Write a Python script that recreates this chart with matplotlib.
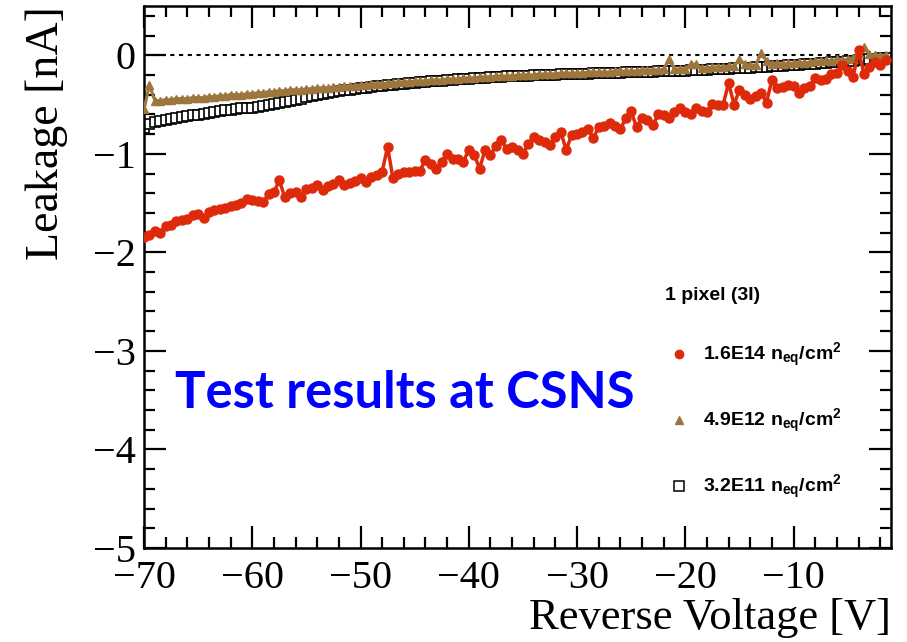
import numpy as np
import matplotlib
matplotlib.use("Agg")
import matplotlib.pyplot as plt
from matplotlib.lines import Line2D
from matplotlib.ticker import MultipleLocator

plt.rcParams["mathtext.fontset"] = "custom"
plt.rcParams["mathtext.rm"] = "Liberation Sans:bold"
plt.rcParams["mathtext.it"] = "Liberation Sans:bold"
plt.rcParams["mathtext.bf"] = "Liberation Sans:bold"
plt.rcParams["mathtext.default"] = "rm"

# reverse voltage grid [V], 0.5 V steps
voltage = np.arange(-70.0, -1.25, 0.5)

# leakage [nA] for 1.6E14 neq/cm2
leak_16e14 = [
    -1.84, -1.82, -1.78, -1.80, -1.73, -1.72, -1.68, -1.67, -1.66, -1.62,
    -1.61, -1.65, -1.59, -1.57, -1.56, -1.55, -1.53, -1.52, -1.50, -1.46,
    -1.47, -1.48, -1.49, -1.41, -1.39, -1.27, -1.44, -1.40, -1.39, -1.44,
    -1.36, -1.35, -1.32, -1.37, -1.33, -1.31, -1.27, -1.32, -1.30, -1.28,
    -1.25, -1.29, -1.24, -1.21, -1.18, -0.93, -1.25, -1.20, -1.18, -1.18,
    -1.17, -1.17, -1.06, -1.10, -1.15, -1.08, -1.00, -1.05, -1.05, -1.08,
    -0.96, -1.01, -1.15, -0.96, -1.01, -0.92, -0.86, -0.95, -0.93, -0.96,
    -1.00, -0.90, -0.83, -0.86, -0.88, -0.91, -0.83, -0.78, -0.96, -0.81,
    -0.80, -0.78, -0.75, -0.84, -0.73, -0.72, -0.69, -0.72, -0.75, -0.64,
    -0.57, -0.73, -0.64, -0.66, -0.71, -0.60, -0.61, -0.64, -0.58, -0.53,
    -0.58, -0.60, -0.54, -0.57, -0.58, -0.49, -0.50, -0.50, -0.28, -0.50,
    -0.35, -0.40, -0.44, -0.41, -0.38, -0.48, -0.25, -0.33, -0.32, -0.30,
    -0.31, -0.38, -0.33, -0.31, -0.23, -0.25, -0.24, -0.19, -0.18, -0.10,
    -0.16, -0.22, 0.05, -0.19, -0.12, -0.07, -0.10, -0.05,
]

# leakage [nA] for 4.9E12 neq/cm2
leak_49e12 = [
    -0.55, -0.30, -0.46, -0.46, -0.45, -0.45, -0.44, -0.44, -0.44, -0.43,
    -0.43, -0.43, -0.42, -0.42, -0.41, -0.41, -0.40, -0.40, -0.40, -0.39,
    -0.39, -0.38, -0.38, -0.37, -0.37, -0.36, -0.36, -0.35, -0.35, -0.35,
    -0.34, -0.34, -0.33, -0.33, -0.33, -0.32, -0.32, -0.31, -0.31, -0.31,
    -0.30, -0.30, -0.29, -0.29, -0.29, -0.28, -0.28, -0.27, -0.27, -0.27,
    -0.26, -0.26, -0.26, -0.25, -0.25, -0.25, -0.24, -0.24, -0.24, -0.23,
    -0.23, -0.23, -0.22, -0.22, -0.22, -0.21, -0.21, -0.21, -0.21, -0.20,
    -0.20, -0.20, -0.20, -0.19, -0.19, -0.19, -0.19, -0.18, -0.18, -0.18,
    -0.18, -0.18, -0.17, -0.17, -0.17, -0.17, -0.17, -0.16, -0.16, -0.16,
    -0.16, -0.16, -0.15, -0.15, -0.15, -0.15, -0.14, -0.04, -0.14, -0.14,
    -0.14, -0.09, -0.09, -0.13, -0.13, -0.12, -0.12, -0.12, -0.11, -0.11,
    -0.04, -0.09, -0.10, -0.10, 0.02, -0.06, -0.09, -0.08, -0.09, -0.08,
    -0.08, -0.07, -0.08, -0.07, -0.06, -0.06, -0.05, -0.06, -0.04, -0.05,
    -0.04, -0.03, 0.02, 0.08, 0.01, 0.00, -0.01, 0.00,
]

# leakage [nA] for 3.2E11 neq/cm2
leak_32e11 = [
    -0.74, -0.70, -0.68, -0.67, -0.66, -0.65, -0.64, -0.63, -0.62, -0.61,
    -0.61, -0.60, -0.59, -0.58, -0.57, -0.56, -0.56, -0.55, -0.54, -0.53,
    -0.53, -0.52, -0.51, -0.50, -0.49, -0.48, -0.47, -0.46, -0.45, -0.44,
    -0.42, -0.41, -0.40, -0.39, -0.38, -0.37, -0.36, -0.35, -0.35, -0.34,
    -0.33, -0.33, -0.32, -0.31, -0.31, -0.30, -0.30, -0.29, -0.29, -0.28,
    -0.28, -0.27, -0.27, -0.26, -0.26, -0.26, -0.25, -0.25, -0.24, -0.24,
    -0.24, -0.23, -0.23, -0.23, -0.22, -0.22, -0.22, -0.21, -0.21, -0.21,
    -0.21, -0.21, -0.20, -0.20, -0.20, -0.20, -0.20, -0.19, -0.19, -0.19,
    -0.19, -0.19, -0.19, -0.18, -0.18, -0.18, -0.18, -0.18, -0.18, -0.17,
    -0.17, -0.17, -0.17, -0.17, -0.17, -0.16, -0.16, -0.16, -0.16, -0.16,
    -0.16, -0.15, -0.15, -0.15, -0.15, -0.14, -0.14, -0.14, -0.14, -0.13,
    -0.13, -0.13, -0.13, -0.12, -0.12, -0.12, -0.11, -0.11, -0.11, -0.10,
    -0.10, -0.10, -0.09, -0.09, -0.09, -0.08, -0.08, -0.07, -0.07, -0.07,
    -0.06, -0.06, -0.05, -0.05, -0.04, -0.04, -0.03, -0.03,
]

labels = [r"1.6E14 n$_{eq}$/cm$^{2}$", r"4.9E12 n$_{eq}$/cm$^{2}$", r"3.2E11 n$_{eq}$/cm$^{2}$"]
red = "#dd2a0a"
brown = "#9c763c"

fig = plt.figure(figsize=(9.07, 6.42), dpi=100)
ax = fig.add_axes([144 / 907, 94 / 642, (891 - 144) / 907, (548 - 6) / 642])

ax.axhline(0, color="black", lw=1.5, ls=(0, (2, 2.2)), zorder=1)
ax.plot(voltage, leak_32e11, ls="none", marker="s", ms=7, mfc="white",
        mec="black", mew=1.2, zorder=2)
ax.plot(voltage, leak_49e12, color=brown, lw=2.2, marker="^", ms=5.5,
        mec=brown, zorder=3)
ax.plot(voltage, leak_16e14, color=red, lw=2.5, marker="o", ms=6.5,
        mec=red, zorder=4)

ax.set_xlim(-70, -1)
ax.set_ylim(-5, 0.5)
ax.xaxis.set_major_locator(MultipleLocator(10))
ax.xaxis.set_minor_locator(MultipleLocator(2))
ax.yaxis.set_major_locator(MultipleLocator(1))
ax.yaxis.set_minor_locator(MultipleLocator(0.2))
ax.tick_params(which="both", direction="in", top=True, right=True, width=1.6)
ax.tick_params(which="major", length=16, labelsize=29)
ax.tick_params(axis="x", which="major", pad=9)
ax.tick_params(axis="y", which="major", pad=6)
ax.tick_params(which="minor", length=8)
for s in ax.spines.values():
    s.set_linewidth(1.8)
for t in ax.get_xticklabels() + ax.get_yticklabels():
    t.set_fontfamily("Liberation Serif")

ax.set_xlabel("Reverse Voltage [V]", fontsize=32, family="Liberation Serif",
              loc="right", labelpad=0)
ax.set_ylabel("Leakage [nA]", fontsize=33, family="Liberation Serif",
              loc="top", labelpad=18)

handles = [
    Line2D([], [], ls="none", marker="o", ms=6, color=red),
    Line2D([], [], ls="none", marker="^", ms=5.5, color=brown),
    Line2D([], [], ls="none", marker="s", ms=6.5, mfc="white", mec="black", mew=1.1),
]
leg = ax.legend(handles, labels, title="1 pixel (3I)", frameon=False,
                loc="upper left", bbox_to_anchor=(655 / 907, 1 - 277 / 642),
                bbox_transform=fig.transFigure, borderpad=0,
                prop={"family": "Liberation Sans", "weight": "bold", "size": 14},
                title_fontproperties={"family": "Liberation Sans", "weight": "bold", "size": 14},
                labelspacing=1.95, handlelength=1.5, handletextpad=0.45,
                alignment="left")
leg._legend_box.sep = 27

ax.text(175 / 907, 1 - 393 / 642, "Test results at CSNS", transform=fig.transFigure,
        color="#0000ff", fontsize=36.5, fontweight="bold", family="Lato",
        va="center", ha="left")

fig.savefig("out.png", dpi=100)
